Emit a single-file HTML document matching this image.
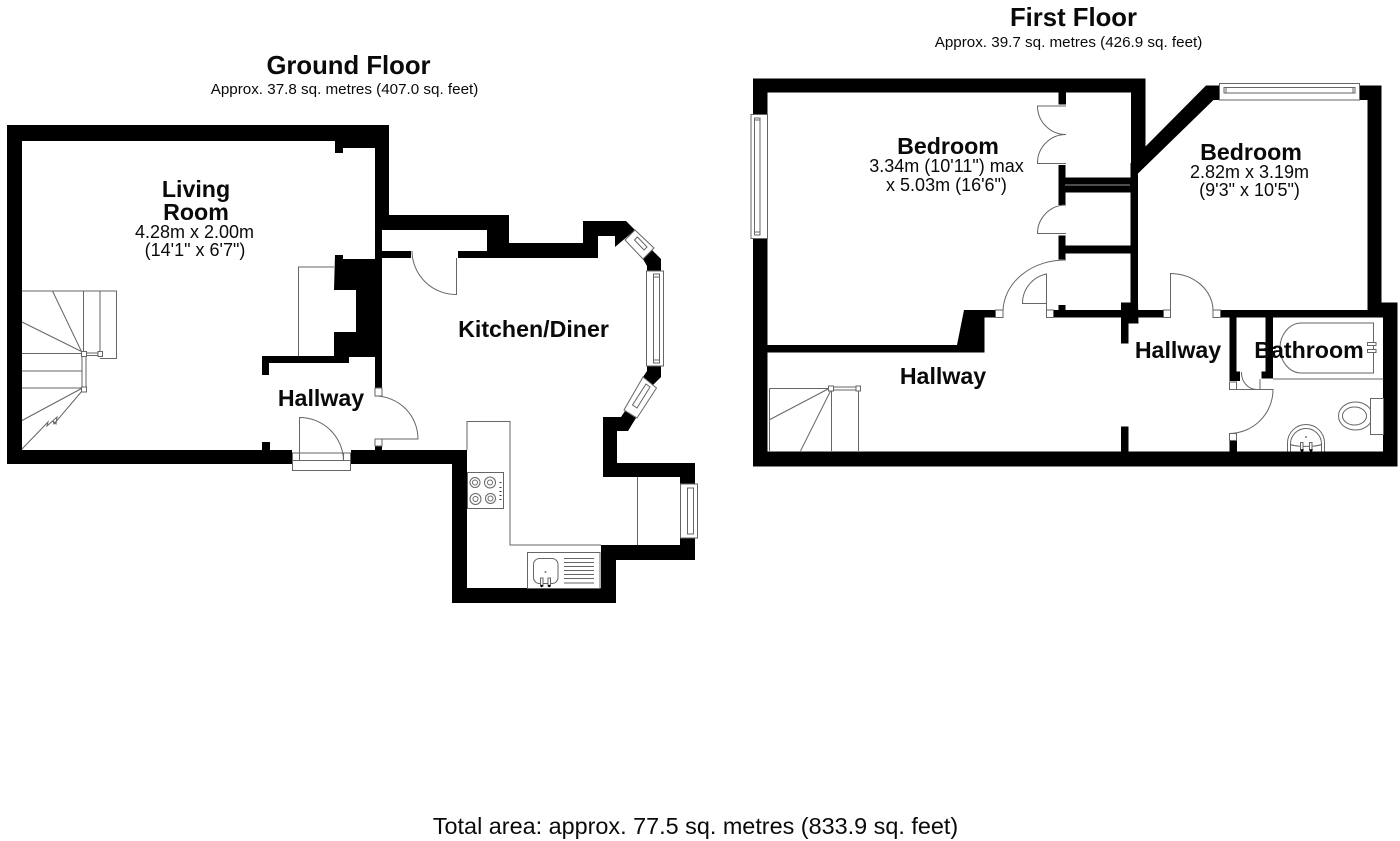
<!DOCTYPE html>
<html><head><meta charset="utf-8"><style>
html,body{margin:0;padding:0;background:#fff}
svg{display:block}
text{font-family:"Liberation Sans",sans-serif;fill:#0a0a0a;text-anchor:middle}
.h{font-weight:700;font-size:23.2px}
.t{font-weight:700;font-size:25.7px}
.s{font-size:15.2px}
.d{font-size:18px}
.l{fill:none;stroke:#666;stroke-width:1}
.w{fill:#fff;stroke:#666;stroke-width:1}
.b{fill:#000}
</style></head><body>
<svg width="1400" height="841" viewBox="0 0 1400 841" xmlns="http://www.w3.org/2000/svg">
<rect width="1400" height="841" fill="#fff"/>
<!-- GROUND FLOOR walls -->
<g class="b">
<polygon points="7,125 389,125 389,215 509,215 509,243 583,243 583,221 626,221 635,230 615,247 615,236 598,236 598,258 458,258 458,251 487,251 487,230 382,230 382,388 375,388 375,141 22,141 22,450 292,450 292,464 7,464"/>
<polygon points="382,251 411,251 411,258 382,258"/>
<polygon points="335,141 375,141 375,148 343,148 343,153 335,153"/>
<polygon points="335,255 343,255 343,259 375,259 375,357 349,357 349,363 269,363 269,375 262,375 262,356 334,356 334,332 356,332 356,290 334,290"/>
<rect x="262" y="442" width="8" height="8"/>
<rect x="375" y="446" width="7" height="5"/>
<polygon points="351,450 467,450 467,588 601,588 601,545 680,545 680,538 695,538 695,560 616,560 616,603 452,603 452,464 351,464"/>
<polygon points="652,250 661,259 661,271 647,271 647,266 643,259"/>
<polygon points="647,366 661,366 661,377 653,385 643,377 647,371"/>
<polygon points="625,411 636,418 628,431 617,431 617,463 695,463 695,484 680,484 680,477 603,477 603,417 621,417"/>
</g>
<!-- ground jambs -->
<rect class="w" x="375" y="388" width="7" height="8"/>
<rect class="w" x="375" y="439" width="7" height="7"/>
<!-- front door -->
<rect class="w" x="292.5" y="453" width="58" height="17.5"/>
<line class="l" x1="292.5" y1="460.5" x2="350.5" y2="460.5"/>
<rect class="w" x="292.5" y="453" width="7" height="7.5"/>
<rect class="w" x="343.5" y="453" width="7" height="7.5"/>
<path class="l" d="M299.5 460V417.5A44 44 0 0 1 343.5 460"/>
<path class="l" d="M375.5 396A43 43 0 0 1 418 439H382"/>
<path class="l" d="M412 251A44 44 0 0 0 456.5 294.5V258"/>
<!-- fireplace -->
<polyline class="l" points="334,267 298.5,267 298.5,356"/>
<!-- stairs ground -->
<g class="l">
<polyline points="22,291 116.5,291 116.5,358.5 100,358.5"/>
<line x1="83.5" y1="291" x2="83.5" y2="352"/>
<line x1="100" y1="291" x2="100" y2="352"/>
<line x1="52.5" y1="291" x2="81.5" y2="351.5"/>
<line x1="22" y1="322" x2="81.5" y2="351.5"/>
<line x1="22" y1="353.5" x2="82" y2="353.5"/>
<line x1="22" y1="371" x2="82" y2="371"/>
<line x1="22" y1="388" x2="82" y2="388"/>
<line x1="22" y1="420.5" x2="81.5" y2="388.5"/>
<polyline points="22,449 48,422 47,426 57,417 56,424 53,421 54,424 82,391"/>
<rect x="82" y="356" width="4" height="32" fill="#fff"/>
</g>
<rect class="w" x="81.5" y="351.5" width="5" height="5"/>
<rect class="w" x="98" y="351.5" width="4.5" height="5"/>
<rect class="w" x="81.5" y="387" width="5" height="5"/>
<path class="l" d="M86.5 353H98M86.5 355.5H98"/>
<!-- windows ground -->
<rect class="w" x="646.5" y="271" width="17" height="95"/>
<rect class="l" x="653.5" y="274" width="6" height="89"/>
<path class="l" d="M653.5 277H659.5M653.5 360H659.5"/>
<rect class="w" x="680.5" y="484" width="17" height="54"/>
<rect class="l" x="687.5" y="488" width="6" height="46"/>
<polygon class="w" points="635,230 654,248 643,259 625,240"/>
<polygon class="l" points="637.5,237 647,247 644,250 634.5,240"/>
<polygon class="w" points="643,377 656.5,388 637,418 624,410"/>
<polygon class="l" points="646,384 650,387 637,408 632.5,405"/>
<!-- kitchen units -->
<polyline class="l" points="467,450 467,421.5 510,421.5 510,545 601,545"/>
<line class="l" x1="637.5" y1="477" x2="637.5" y2="545"/>
<rect class="w" x="467.5" y="472.5" width="36" height="36"/>
<g class="l">
<circle cx="475" cy="482.5" r="5"/><circle cx="475" cy="482.5" r="2.5"/>
<circle cx="490" cy="482.5" r="5.5"/><circle cx="490" cy="482.5" r="2.5"/>
<circle cx="475.5" cy="499" r="5.5"/><circle cx="475.5" cy="499" r="2.5"/>
<circle cx="490.5" cy="498.5" r="5"/><circle cx="490.5" cy="498.5" r="2.5"/>
</g>
<path d="M500.5 482v1M500.5 487v1M500.5 491v1M500.5 495v1M500.5 499v1" stroke="#333" stroke-width="2"/>
<rect class="w" x="527.5" y="552.5" width="72.5" height="36"/>
<rect class="l" x="533.5" y="558.5" width="24.5" height="25" rx="6"/>
<circle cx="545.5" cy="572" r="1" fill="#777"/>
<path class="l" d="M564 558.5H594M564 562.5H594M564 566.5H594M564 570.5H594M564 574.5H594M564 578.5H594M564 583H594"/>
<rect class="w" x="540.5" y="578" width="2.5" height="8"/><rect class="w" x="548" y="578" width="2.5" height="8"/>
<circle cx="541.7" cy="586" r="1.2" fill="#000"/><circle cx="549.2" cy="586" r="1.2" fill="#000"/>

<!-- FIRST FLOOR walls -->
<g class="b">
<polygon points="753,78.5 1145.5,78.5 1145.5,146.5 1206,85.5 1219.5,85.5 1219.5,100 1213.5,100 1138,173.5 1138,302.5 1138.5,323.5 1128.5,323.5 1128.5,343.5 1121,343.5 1121,317.5 1053.5,317.5 1053.5,310 1058.5,310 1058.5,305 1065.5,305 1065.5,310 1121,310 1121,302.5 1130.5,302.5 1130.5,253.5 1065.5,253.5 1065.5,259.5 1058.5,259.5 1058.5,235.5 1065.5,235.5 1065.5,245.5 1130.5,245.5 1130.5,192.5 1065.5,192.5 1065.5,205 1058.5,205 1058.5,165 1065.5,165 1065.5,177.5 1130.5,177.5 1130.5,163 1131,163 1131,92.5 767.5,92.5 767.5,345 957,345 964,310 995.5,310 995.5,317.5 984.5,317.5 984.5,352.5 767.5,352.5 767.5,451.5 1383,451.5 1383,317.5 1273,317.5 1273,378.5 1261.5,378.5 1261.5,371.5 1265.5,371.5 1265.5,317.5 1236.5,317.5 1236.5,371.5 1240,371.5 1240,381 1229.5,381 1229.5,317.5 1220.5,317.5 1220.5,310 1367.5,310 1367.5,100 1359.5,100 1359.5,85.5 1381.5,85.5 1381.5,302.5 1397.5,302.5 1397.5,466.5 753,466.5"/>
<rect x="1058.5" y="92" width="7.5" height="12.5"/>
<rect x="1138" y="310" width="25.5" height="7.5"/>
<rect x="1121" y="426.5" width="7.5" height="25"/>
<rect x="1229.5" y="440.5" width="7.5" height="11"/>
</g>
<line x1="1065" y1="185" x2="1130" y2="185" stroke="#999" stroke-width="1"/>
<rect class="w" x="751" y="114.5" width="16.5" height="124"/>
<rect class="l" x="754.5" y="118" width="5.5" height="117"/>
<path class="l" d="M754.5 120H760M754.5 232H760"/>
<rect class="w" x="1219.5" y="83.5" width="140" height="16.5"/>
<rect class="l" x="1224" y="87.5" width="131" height="5.5"/>
<path class="l" d="M1226 87.5V93M1353 87.5V93"/>
<!-- first jambs and doors -->
<rect class="w" x="995.5" y="310" width="7.5" height="7.5"/>
<rect class="w" x="1046.5" y="310" width="7" height="7.5"/>
<rect class="w" x="1163.5" y="310" width="7" height="7.5"/>
<rect class="w" x="1213" y="310" width="7.5" height="7.5"/>
<rect class="w" x="1229.5" y="382" width="7" height="7.5"/>
<rect class="w" x="1229.5" y="433.5" width="7" height="7"/>
<path class="l" d="M1003 311A62 52 0 0 1 1066 260"/>
<path class="l" d="M1046.5 310V274A30 30 0 0 0 1022.5 303.5H1046.5"/>
<path class="l" d="M1170.5 310V273.5A43 37 0 0 1 1213 310"/>
<path class="l" d="M1066 106H1037.5A28.5 28.5 0 0 0 1066 134.5A28.5 28.5 0 0 0 1037.5 163.5H1066"/>
<path class="l" d="M1066 205A28.5 28.5 0 0 0 1037.5 233.5H1066"/>
<path class="l" d="M1241.5 372A15 17 0 0 0 1256.5 389.5M1236.5 389.5H1260V379"/>
<path class="l" d="M1260 389.5H1273A44 44 0 0 1 1229.5 433.5"/>
<!-- first stairs -->
<g class="l">
<polyline points="769.5,388.5 828,388.5"/>
<line x1="769.5" y1="388.5" x2="769.5" y2="451"/>
<line x1="769" y1="420" x2="829" y2="388.5"/>
<line x1="800.5" y1="451" x2="831" y2="390"/>
<line x1="831.5" y1="390" x2="831.5" y2="451"/>
<line x1="858.5" y1="390" x2="858.5" y2="451"/>
<path d="M833 387H857M833 390H857"/>
</g>
<rect class="w" x="828.5" y="386" width="5" height="5"/>
<rect class="w" x="856" y="386" width="4.5" height="5"/>
<!-- bathroom fixtures -->
<path class="l" d="M1273 379H1383.5"/>
<path class="l" d="M1373.5 323H1301.5C1289 323 1280 335 1280 348C1280 361 1289 373 1301.5 373H1373.5Z"/>
<rect class="w" x="1367.5" y="342.5" width="8.5" height="3"/><rect class="w" x="1367.5" y="349.5" width="8.5" height="3"/>
<ellipse class="l" cx="1355.5" cy="416" rx="17" ry="14"/>
<ellipse class="l" cx="1354.5" cy="416" rx="12" ry="9"/>
<rect class="w" x="1370.5" y="398.5" width="13" height="36"/>
<path class="l" d="M1287.5 451.5V443A18.5 18.5 0 0 1 1324.5 443V451.5"/>
<path class="l" d="M1290.5 451.5V444A15.5 15.5 0 0 1 1321.5 444V451.5M1290.5 444.5C1296 447 1316 447 1321.5 444.5"/>
<circle cx="1306" cy="437" r="1" fill="#777"/>
<rect class="w" x="1300.5" y="442.5" width="2.5" height="7"/><rect class="w" x="1309.5" y="442.5" width="2.5" height="7"/>
<path d="M1300 449.5h4l-2 4zM1309 449.5h4l-2 4z" fill="#000"/>

<!-- TEXT -->
<text class="t" x="348.5" y="74">Ground Floor</text>
<text class="s" x="344.5" y="94">Approx. 37.8 sq. metres (407.0 sq. feet)</text>
<text class="t" x="1073.5" y="26">First Floor</text>
<text class="s" x="1068.5" y="47">Approx. 39.7 sq. metres (426.9 sq. feet)</text>
<text class="h" x="196" y="197">Living</text>
<text class="h" x="196" y="220">Room</text>
<text class="d" x="194.5" y="238">4.28m x 2.00m</text>
<text class="d" x="195" y="256">(14'1" x 6'7")</text>
<text class="h" x="321" y="406">Hallway</text>
<text class="h" x="533.5" y="337">Kitchen/Diner</text>
<text class="h" x="948" y="154">Bedroom</text>
<text class="d" x="946.5" y="172">3.34m (10'11") max</text>
<text class="d" x="946.5" y="191">x 5.03m (16'6")</text>
<text class="h" x="1251" y="160">Bedroom</text>
<text class="d" x="1249.5" y="178">2.82m x 3.19m</text>
<text class="d" x="1249.5" y="196">(9'3" x 10'5")</text>
<text class="h" x="943" y="384">Hallway</text>
<text class="h" x="1178" y="358">Hallway</text>
<text class="h" x="1309" y="358">Bathroom</text>
<text x="695.5" y="834" style="font-size:23.4px">Total area: approx. 77.5 sq. metres (833.9 sq. feet)</text>
</svg>
</body></html>
